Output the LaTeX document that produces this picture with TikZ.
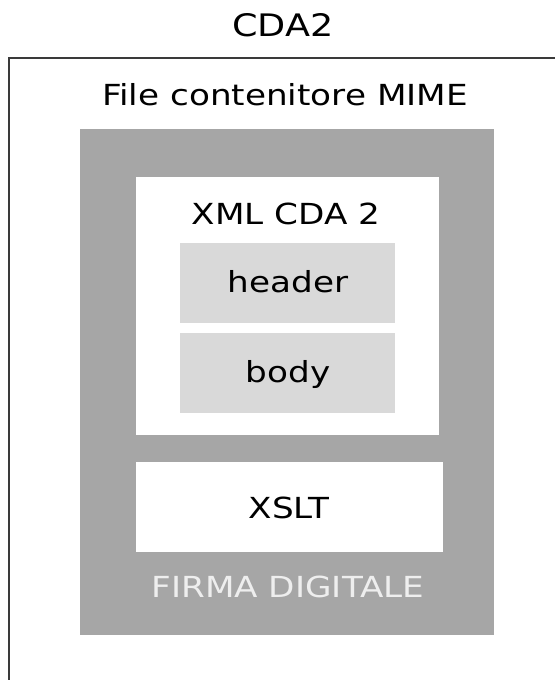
\documentclass[tikz,border=0pt]{standalone}
\usepackage{fontspec}
\setmainfont{DejaVu Sans}[FakeStretch=1.18]
\definecolor{frameline}{HTML}{3A3A3A}
\definecolor{firmagray}{HTML}{A6A6A6}
\definecolor{partgray}{HTML}{D9D9D9}
\definecolor{firmatext}{HTML}{EEEEEE}
\begin{document}
\begin{tikzpicture}[x=0.75pt,y=-0.75pt,
  lbl/.style={inner sep=0pt,anchor=base,font=\fontsize{21.75pt}{26pt}\selectfont,text=black},
  ttl/.style={lbl,font=\fontsize{23.25pt}{28pt}\selectfont}]
\useasboundingbox (0,0) rectangle (554,680);
% outer container (extends beyond the picture)
\draw[frameline,line width=1.5pt] (9,700) -- (9,58) -- (580,58);
% digital signature block
\fill[firmagray] (80,129) rectangle (494,635);
% XML CDA 2 block
\fill[white] (136,177) rectangle (439,435);
\fill[partgray] (180,243) rectangle (395,323);
\fill[partgray] (180,333) rectangle (395,413);
% XSLT block
\fill[white] (136,462) rectangle (443,552);
% texts
\node[ttl] (cda) at (283,37) {CDA2};
\node[lbl] (mime) at (285,106) {File contenitore MIME};
\node[lbl] (xml) at (286,225) {XML CDA 2};
\node[lbl] (header) at (288,292) {header};
\node[lbl] (body) at (288,382) {body};
\node[lbl] (xslt) at (289,518) {XSLT};
\node[lbl,text=firmatext] (firma) at (288,597) {FIRMA DIGITALE};
\end{tikzpicture}
\end{document}
